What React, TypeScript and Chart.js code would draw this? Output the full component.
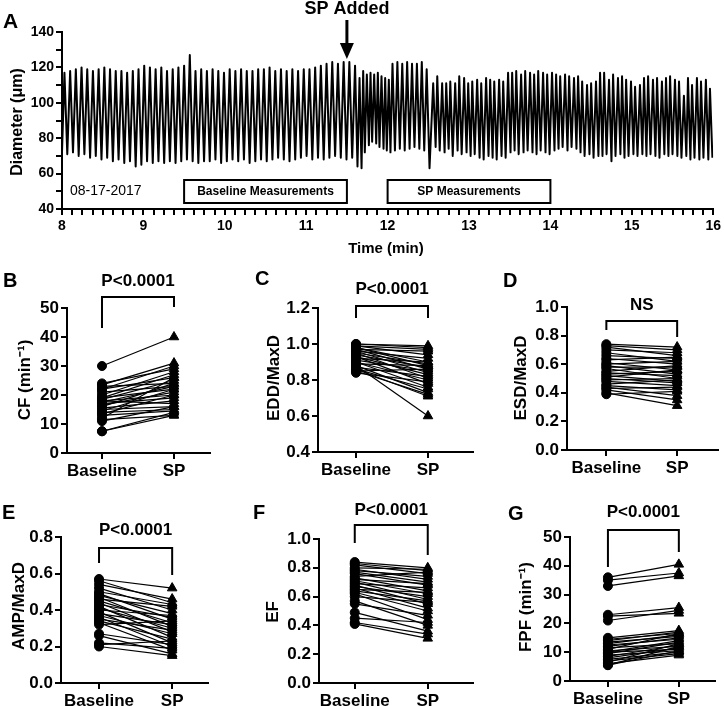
import React, { useEffect, useRef } from "react";
import { Chart, registerables } from "chart.js";

Chart.register(...registerables);

const W = 724;
const H = 706;
const FONT = "'Liberation Sans', Arial, Helvetica, sans-serif";
Chart.defaults.font.family = FONT;
Chart.defaults.color = "#000";

// ---------------- Panel A : diameter trace ----------------
const peakTime = [
  8.03, 8.10, 8.17, 8.24, 8.31, 8.38, 8.45, 8.52, 8.59, 8.66,
  8.73, 8.80, 8.87, 8.94, 9.01, 9.08, 9.15, 9.22, 9.29, 9.36,
  9.43, 9.50, 9.57, 9.64, 9.71, 9.78, 9.85, 9.92, 9.99, 10.06,
  10.13, 10.20, 10.27, 10.34, 10.41, 10.48, 10.55, 10.62, 10.69, 10.76,
  10.83, 10.90, 10.97, 11.04, 11.11, 11.18, 11.25, 11.32, 11.39, 11.46,
  11.53, 11.60,
  11.655, 11.70, 11.745, 11.79, 11.835, 11.88, 11.925, 11.97, 12.015,
  12.06, 12.12, 12.18, 12.24, 12.30, 12.36, 12.42, 12.48,
  12.56, 12.61, 12.67, 12.72, 12.77, 12.83, 12.88, 12.94, 12.99, 13.04,
  13.10, 13.15, 13.21, 13.26, 13.31, 13.37, 13.42, 13.48, 13.53, 13.58,
  13.64, 13.69, 13.75, 13.80, 13.85, 13.91, 13.96, 14.02, 14.07, 14.12,
  14.18, 14.23, 14.29, 14.34, 14.39, 14.45, 14.50, 14.56, 14.61, 14.66,
  14.72, 14.77, 14.83, 14.88, 14.93, 14.99, 15.04, 15.10, 15.15, 15.20,
  15.26, 15.31, 15.37, 15.42, 15.47, 15.53, 15.58, 15.64, 15.69, 15.74,
  15.80, 15.85, 15.91, 15.96,
];
const peakDiam = [
  117, 118, 119, 120, 119, 118, 119, 120, 119, 118,
  118, 117, 118, 119, 121, 120, 119, 120, 118, 119,
  120, 121, 127, 118, 119, 118, 119, 118, 117, 119,
  118, 119, 118, 118, 119, 119, 120, 118, 119, 118,
  119, 118, 119, 119, 120, 121, 122, 123, 122, 123,
  123, 121,
  114, 118, 116, 117, 116, 117, 115, 114, 113,
  122, 123, 122, 123, 122, 122, 123, 119,
  111, 115, 111, 111, 112, 111, 115, 114, 111, 112,
  113, 111, 114, 113, 112, 113, 112,
  117, 117, 118, 116, 118, 117, 116, 118, 117, 116, 117,
  116, 115, 116, 115, 114, 115,
  112, 110, 111, 112,
  117, 117,
  113, 116, 114, 115, 113, 112,
  109, 110,
  114, 115, 113, 114, 112, 114, 115, 113, 112,
  104,
  114, 110, 114, 112, 113, 108,
];
const troughTime = [
  8.00,
  8.065, 8.135, 8.205, 8.275, 8.345, 8.415, 8.485, 8.555, 8.625, 8.695,
  8.765, 8.835, 8.905, 8.975, 9.045, 9.115, 9.185, 9.255, 9.325, 9.395,
  9.465, 9.535, 9.605, 9.675, 9.745, 9.815, 9.885, 9.955, 10.025, 10.095,
  10.165, 10.235, 10.305, 10.375, 10.445, 10.515, 10.585, 10.655, 10.725, 10.795,
  10.865, 10.935, 11.005, 11.075, 11.145, 11.215, 11.285, 11.355, 11.425, 11.495,
  11.565, 11.63,
  11.68, 11.72, 11.77, 11.81, 11.86, 11.90, 11.95, 11.99, 12.035,
  12.09, 12.15, 12.21, 12.27, 12.33, 12.39, 12.45, 12.515,
  12.59, 12.64, 12.70, 12.75, 12.80, 12.86, 12.91, 12.97, 13.02, 13.07,
  13.13, 13.18, 13.24, 13.29, 13.34, 13.40, 13.45, 13.51, 13.56, 13.61,
  13.67, 13.72, 13.78, 13.83, 13.88, 13.94, 13.99, 14.05, 14.10, 14.15,
  14.21, 14.26, 14.32, 14.37, 14.42, 14.48, 14.53, 14.59, 14.64, 14.69,
  14.75, 14.80, 14.86, 14.91, 14.96, 15.02, 15.07, 15.13, 15.18, 15.23,
  15.29, 15.34, 15.40, 15.45, 15.50, 15.56, 15.61, 15.67, 15.72, 15.77,
  15.83, 15.88, 15.94, 15.99,
];
const troughDiam = [
  72,
  71, 72, 70, 71, 69, 70, 68, 69, 67, 68,
  66, 67, 64, 65, 67, 66, 67, 66, 67, 66,
  67, 68, 67, 66, 67, 67, 68, 66, 67, 68,
  67, 68, 66, 67, 68, 67, 68, 69, 68, 67,
  68, 69, 70, 68, 69, 68, 69, 70, 69, 68,
  69, 64,
  63, 72, 76, 78, 77, 75, 74, 73, 72,
  73, 74, 73, 74, 75, 74, 73, 63,
  75, 73, 72, 74, 70, 73, 71, 72, 70, 71,
  69, 68, 70, 69, 68, 70, 69,
  72, 73, 71, 72, 73, 72, 71, 73, 72, 71, 73,
  74, 75, 73, 75, 74, 72,
  70, 71, 69, 70,
  70, 71,
  67, 70, 71, 69, 70, 71,
  70, 71,
  70, 71, 70, 69, 71, 70, 71, 70, 69,
  70,
  68, 69, 68, 69, 68, 69,
];
const spAddedTime = 11.5;
const measureLabels = ["Baseline Measurements", "SP Measurements"];
const measureStart = [9.5, 12];
const measureEnd = [11.5, 14];
const dateLabel = "08-17-2017";

// ---------------- Panels B-G : paired data ----------------
const categories = ["Baseline", "SP"];
const cfBase = [30, 24, 23.5, 23, 22, 22, 21, 20, 19, 19, 18.5, 18, 18, 17.5, 17, 16.5, 16, 15.5, 15, 14.5, 14, 13.5, 13, 12, 11.5, 11, 7.5, 7.5];
const cfSp = [40, 29, 31, 24, 30, 26, 23, 28, 22, 27, 25, 20, 17, 23, 19, 21, 24, 18, 16, 22, 15, 20, 14.5, 26, 13, 16, 14, 13];
const eddBase = [1.0, 1.0, 0.99, 0.99, 0.98, 0.98, 0.97, 0.97, 0.96, 0.96, 0.95, 0.95, 0.94, 0.93, 0.93, 0.92, 0.91, 0.90, 0.90, 0.89, 0.88, 0.88, 0.87, 0.86, 0.86, 0.85, 0.84, 0.85];
const eddSp = [0.99, 0.98, 0.97, 0.94, 0.90, 0.88, 0.96, 0.86, 0.92, 0.84, 0.89, 0.81, 0.87, 0.83, 0.78, 0.90, 0.85, 0.80, 0.76, 0.88, 0.73, 0.60, 0.82, 0.75, 0.71, 0.72, 0.79, 0.86];
const esdBase = [0.74, 0.73, 0.72, 0.70, 0.68, 0.66, 0.64, 0.63, 0.61, 0.60, 0.59, 0.58, 0.57, 0.55, 0.54, 0.53, 0.52, 0.51, 0.50, 0.49, 0.48, 0.46, 0.45, 0.44, 0.43, 0.42, 0.40, 0.39];
const esdSp = [0.72, 0.70, 0.66, 0.68, 0.62, 0.64, 0.60, 0.65, 0.56, 0.62, 0.53, 0.58, 0.50, 0.59, 0.52, 0.55, 0.48, 0.56, 0.47, 0.50, 0.45, 0.49, 0.42, 0.38, 0.44, 0.35, 0.31, 0.41];
const ampBase = [0.57, 0.56, 0.54, 0.52, 0.50, 0.49, 0.48, 0.47, 0.46, 0.45, 0.44, 0.43, 0.42, 0.41, 0.40, 0.39, 0.38, 0.37, 0.36, 0.35, 0.34, 0.33, 0.32, 0.27, 0.26, 0.22, 0.21, 0.20];
const ampSp = [0.52, 0.44, 0.46, 0.40, 0.43, 0.35, 0.38, 0.31, 0.42, 0.33, 0.28, 0.36, 0.25, 0.30, 0.37, 0.22, 0.32, 0.27, 0.20, 0.29, 0.24, 0.18, 0.34, 0.21, 0.16, 0.19, 0.23, 0.15];
const efBase = [0.84, 0.83, 0.82, 0.80, 0.79, 0.78, 0.77, 0.76, 0.74, 0.73, 0.72, 0.71, 0.70, 0.69, 0.68, 0.67, 0.66, 0.65, 0.64, 0.63, 0.62, 0.60, 0.57, 0.55, 0.49, 0.45, 0.42, 0.41];
const efSp = [0.80, 0.78, 0.76, 0.79, 0.72, 0.74, 0.70, 0.68, 0.77, 0.64, 0.69, 0.62, 0.58, 0.66, 0.55, 0.60, 0.52, 0.63, 0.57, 0.50, 0.44, 0.56, 0.40, 0.47, 0.36, 0.42, 0.34, 0.31];
const fpfBase = [36, 35, 33, 23, 22.5, 21, 15, 14.5, 14, 13.5, 13, 12.5, 12, 11.5, 11, 10.5, 10, 10, 9.5, 9, 8.5, 8, 7.5, 7, 6.5, 6, 5.5, 5.5];
const fpfSp = [40.5, 37.5, 36.5, 25.5, 23.5, 24.5, 17.5, 16.5, 17, 15.5, 16, 14.5, 15, 13, 16.5, 12, 14, 11, 13.5, 10.5, 12.5, 11.5, 10, 9.5, 13, 9, 10.5, 12];

type PanelCfg = {
  letter: string; title: string; stat: string;
  base: number[]; sp: number[];
  yMin: number; yMax: number; step: number; dec: number;
  area: [number, number, number, number];
  xRange: [number, number];
  letterAt: [number, number];
  statY: number;
  bracket: [number, number, number];
  titleAt: [number, number];
};

const panels: PanelCfg[] = [
  { letter: "B", title: "CF (min\u207B\u00B9)", stat: "P<0.0001", base: cfBase, sp: cfSp, yMin: 0, yMax: 50, step: 10, dec: 0,
    area: [67, 308, 210, 453], xRange: [-0.486, 1.5], letterAt: [3, 281], statY: 281, bracket: [297, 328, 307], titleAt: [25, 380] },
  { letter: "C", title: "EDD/MaxD", stat: "P<0.0001", base: eddBase, sp: eddSp, yMin: 0.4, yMax: 1.2, step: 0.2, dec: 1,
    area: [318, 308, 473, 452], xRange: [-0.528, 1.625], letterAt: [255, 279], statY: 289, bracket: [306, 318, 318], titleAt: [274, 378] },
  { letter: "D", title: "ESD/MaxD", stat: "NS", base: esdBase, sp: esdSp, yMin: 0, yMax: 1.0, step: 0.2, dec: 1,
    area: [567, 307, 720, 450], xRange: [-0.556, 1.57], letterAt: [503, 281], statY: 305, bracket: [321, 330, 337], titleAt: [521, 378] },
  { letter: "E", title: "AMP/MaxD", stat: "P<0.0001", base: ampBase, sp: ampSp, yMin: 0, yMax: 0.8, step: 0.2, dec: 1,
    area: [61, 537, 208, 683], xRange: [-0.52, 1.49], letterAt: [2, 513], statY: 530, bracket: [548, 563, 575], titleAt: [19, 606] },
  { letter: "F", title: "EF", stat: "P<0.0001", base: efBase, sp: efSp, yMin: 0, yMax: 1.0, step: 0.2, dec: 1,
    area: [319, 539, 473, 683], xRange: [-0.49, 1.62], letterAt: [253, 513], statY: 510, bracket: [525, 543, 555], titleAt: [273, 612] },
  { letter: "G", title: "FPF (min\u207B\u00B9)", stat: "P<0.0001", base: fpfBase, sp: fpfSp, yMin: 0, yMax: 50, step: 10, dec: 0,
    area: [570, 537, 715, 681], xRange: [-0.535, 1.51], letterAt: [508, 514], statY: 512, bracket: [530, 567, 552], titleAt: [526, 607] },
];

// ---------------- helpers ----------------
function drawText(ctx: CanvasRenderingContext2D, s: string, x: number, y: number, size: number,
  align: CanvasTextAlign = "center", weight = "bold", rotate = false) {
  ctx.save();
  ctx.font = `${weight} ${size}px ${FONT}`;
  ctx.textAlign = align;
  ctx.textBaseline = "middle";
  ctx.fillStyle = "#000";
  ctx.translate(x, y);
  if (rotate) ctx.rotate(-Math.PI / 2);
  ctx.fillText(s, 0, 0);
  ctx.restore();
}

const gridOpts = (tickLength = 6) => ({
  display: true, drawOnChartArea: false, drawTicks: true, tickLength,
  tickWidth: 2, tickColor: "#000", color: "#000", lineWidth: 2,
});
const borderOpts = { display: true, color: "#000", width: 2 };

function padFor(area: [number, number, number, number], yw: number, xh: number) {
  const [l, t, r, b] = area;
  return { left: l - yw, top: t, right: W - r, bottom: H - b - xh };
}

function buildTrace(canvas: HTMLCanvasElement) {
  const data: { x: number; y: number }[] = [];
  for (let i = 0; i < troughTime.length; i++) {
    data.push({ x: troughTime[i], y: troughDiam[i] });
    if (i < peakTime.length) data.push({ x: peakTime[i], y: peakDiam[i] });
  }
  const area: [number, number, number, number] = [62, 32, 716, 209];
  const annot = {
    id: "annotA",
    afterDraw(chart: any) {
      const ctx: CanvasRenderingContext2D = chart.ctx;
      const xs = chart.scales.x;
      ctx.save();
      ctx.fillStyle = "#000";
      ctx.strokeStyle = "#000";
      drawText(ctx, "A", 3, 22, 21, "left");
      const ax = xs.getPixelForValue(spAddedTime);
      drawText(ctx, "SP Added", ax, 9, 18);
      ctx.lineWidth = 3;
      ctx.beginPath(); ctx.moveTo(ax, 20); ctx.lineTo(ax, 46); ctx.stroke();
      ctx.beginPath(); ctx.moveTo(ax - 7, 43); ctx.lineTo(ax + 7, 43); ctx.lineTo(ax, 59); ctx.closePath(); ctx.fill();
      ctx.lineWidth = 2;
      measureLabels.forEach((lab, i) => {
        const x0 = xs.getPixelForValue(measureStart[i]);
        const x1 = xs.getPixelForValue(measureEnd[i]);
        ctx.strokeRect(x0, 180, x1 - x0, 23);
        drawText(ctx, lab, (x0 + x1) / 2, 191.5, 12);
      });
      drawText(ctx, dateLabel, 70, 191, 14, "left", "normal");
      drawText(ctx, "Time (min)", 386, 249, 15);
      drawText(ctx, "Diameter (\u03BCm)", 18, 122, 16, "center", "bold", true);
      ctx.restore();
    },
  };
  return new Chart(canvas, {
    type: "line",
    data: { datasets: [{ data, borderColor: "#000", borderWidth: 2, pointRadius: 0, tension: 0, borderJoinStyle: "round" } as any] },
    options: {
      responsive: false, animation: false, events: [],
      layout: { padding: padFor(area, 45, 30) },
      plugins: { legend: { display: false }, tooltip: { enabled: false } },
      scales: {
        x: {
          type: "linear", min: 8, max: 16,
          afterFit: (s: any) => { s.height = 30; },
          border: borderOpts, grid: gridOpts(6),
          ticks: { stepSize: 0.125, autoSkip: false, maxRotation: 0, padding: 3, color: "#000",
            font: { size: 14, weight: "bold" },
            callback: (v: any) => (Number.isInteger(v) ? String(v) : "") },
        },
        y: {
          type: "linear", min: 40, max: 140,
          afterFit: (s: any) => { s.width = 45; },
          border: borderOpts, grid: gridOpts(6),
          ticks: { stepSize: 10, autoSkip: false, padding: 2, color: "#000",
            font: { size: 14, weight: "bold" },
            callback: (v: any) => (v % 20 === 0 ? String(v) : "") },
        },
      },
    } as any,
    plugins: [annot],
  });
}

function buildPanel(canvas: HTMLCanvasElement, p: PanelCfg) {
  const datasets = p.base.map((b, i) => ({
    data: [{ x: 0, y: b }, { x: 1, y: p.sp[i] }],
    borderColor: "#000", borderWidth: 1.2, backgroundColor: "#000",
    pointBackgroundColor: "#000", pointBorderColor: "#000", pointBorderWidth: 1,
    pointStyle: ["circle", "triangle"], pointRadius: [4.5, 5.5], tension: 0, clip: false,
  }));
  const annot = {
    id: "annot" + p.letter,
    afterDraw(chart: any) {
      const ctx: CanvasRenderingContext2D = chart.ctx;
      const xs = chart.scales.x;
      const x0 = xs.getPixelForValue(0);
      const x1 = xs.getPixelForValue(1);
      ctx.save();
      drawText(ctx, p.letter, p.letterAt[0], p.letterAt[1], 20, "left");
      drawText(ctx, p.stat, (x0 + x1) / 2, p.statY, 17);
      ctx.strokeStyle = "#000";
      ctx.lineWidth = 2;
      ctx.beginPath();
      ctx.moveTo(x0, p.bracket[1]);
      ctx.lineTo(x0, p.bracket[0]);
      ctx.lineTo(x1, p.bracket[0]);
      ctx.lineTo(x1, p.bracket[2]);
      ctx.stroke();
      drawText(ctx, p.title, p.titleAt[0], p.titleAt[1], 17, "center", "bold", true);
      ctx.restore();
    },
  };
  return new Chart(canvas, {
    type: "line",
    data: { datasets } as any,
    options: {
      responsive: false, animation: false, events: [],
      layout: { padding: padFor(p.area, 52, 30) },
      plugins: { legend: { display: false }, tooltip: { enabled: false } },
      scales: {
        x: {
          type: "linear", min: p.xRange[0], max: p.xRange[1],
          afterFit: (s: any) => { s.height = 30; },
          afterBuildTicks: (s: any) => { s.ticks = [{ value: 0 }, { value: 1 }]; },
          border: borderOpts, grid: gridOpts(6),
          ticks: { autoSkip: false, maxRotation: 0, padding: 2, color: "#000",
            font: { size: 17, weight: "bold" },
            callback: (v: any) => categories[Math.round(v)] ?? "" },
        },
        y: {
          type: "linear", min: p.yMin, max: p.yMax,
          afterFit: (s: any) => { s.width = 52; },
          border: borderOpts, grid: gridOpts(6),
          ticks: { stepSize: p.step, autoSkip: false, padding: 2, color: "#000",
            font: { size: 17, weight: "bold" },
            callback: (v: any) => Number(v).toFixed(p.dec) },
        },
      },
    } as any,
    plugins: [annot],
  });
}

function ChartLayer({ build }: { build: (c: HTMLCanvasElement) => Chart }) {
  const ref = useRef<HTMLCanvasElement>(null);
  useEffect(() => {
    const chart = build(ref.current as HTMLCanvasElement);
    return () => chart.destroy();
  }, []);
  return (
    <canvas
      ref={ref}
      width={W}
      height={H}
      style={{ position: "absolute", left: 0, top: 0, width: W, height: H }}
    />
  );
}

export default function App() {
  return (
    <div style={{ position: "absolute", left: 0, top: 0, width: W, height: H, background: "#fff", overflow: "hidden" }}>
      <ChartLayer build={buildTrace} />
      {panels.map((p) => (
        <ChartLayer key={p.letter} build={(c) => buildPanel(c, p)} />
      ))}
    </div>
  );
}
